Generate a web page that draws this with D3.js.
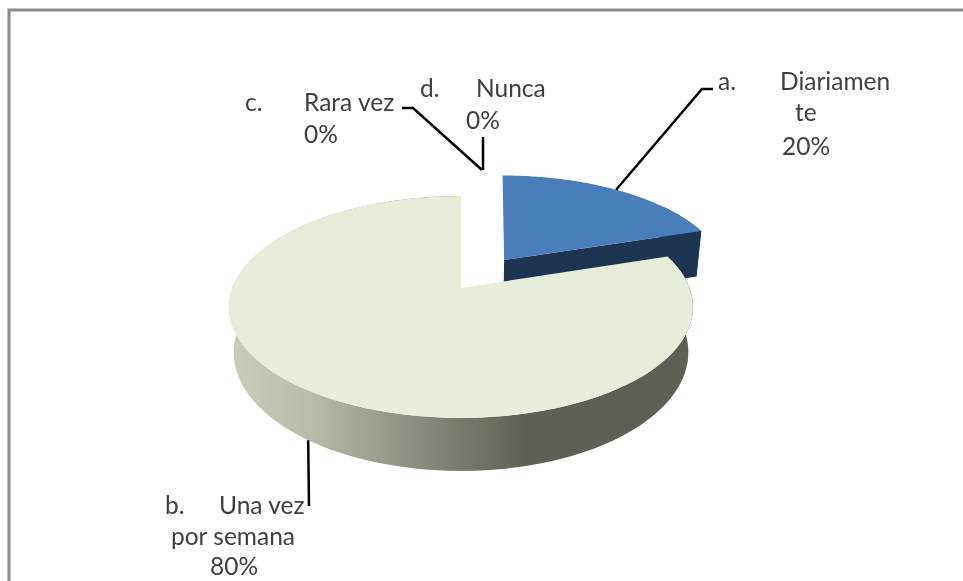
<!DOCTYPE html>
<html>
<head>
<meta charset="utf-8">
<script src="https://cdnjs.cloudflare.com/ajax/libs/d3/7.8.5/d3.min.js"></script>
<style>
  html, body { margin: 0; padding: 0; background: #fff; }
  svg { display: block; }
  text { font-family: Lato, "Open Sans", sans-serif; font-size: 24.5px; fill: #404040; }
</style>
</head>
<body>
<div id="chart"></div>
<script>
// DATA
var letters = ["a.", "b.", "c.", "d."];
var nameLines = [["Diariamen", "te"], ["Una vez", "por semana"], ["Rara vez"], ["Nunca"]];
var values = [20, 80, 0, 0];

// SETUP
var width = 963,
    height = 581;

var svg = d3.select("#chart").append("svg")
    .attr("width", width)
    .attr("height", height);

var defs = svg.append("defs");

// reference is a soft screenshot, so take the edge off everything a bit
defs.append("filter").attr("id", "soft")
  .append("feGaussianBlur").attr("stdDeviation", 0.45);

var wallGrad = defs.append("linearGradient")
    .attr("id", "wall")
    .attr("gradientUnits", "userSpaceOnUse")
    .attr("x1", 228).attr("x2", 692).attr("y1", 0).attr("y2", 0);
[[0, "#c9cdb9"], [0.18, "#b8bca8"], [0.38, "#8f9284"], [0.64, "#5f6054"], [1, "#5f6054"]].forEach(function(s) {
  wallGrad.append("stop").attr("offset", s[0]).attr("stop-color", s[1]);
});

// frame, only top and left are in the picture
svg.append("path")
    .attr("d", d3.line()([[9, height], [9, 10], [width, 10]]))
    .attr("fill", "none")
    .attr("stroke", "#8a8a8a")
    .attr("stroke-width", 3);

var root = svg.append("g").attr("filter", "url(#soft)");

// PROJECTION
// tilted disc with perspective, worked out from the rim + apex of the big slice
var cx = 461, cy = 288, rimX = 228.6, rimY = 107.7, persp = 0.171;
var depth = 44, bottomShrink = 0.98;
var explode = 0.336, explodedDepth = 50, explodedSkew = 4.5;  // skew keeps the cut edge upright

function project(u, v, z) {
  var w = 1 + persp * v;
  var x = cx + rimX * u / w;
  var y = cy - rimY * v / w;
  if (z) {
    x = cx + (x - cx) * bottomShrink;
    y = y + z / w;
  }
  return [x, y];
}

// point on a slice, a = angle from 12 o'clock clockwise, r = 0..1 from apex
function slicePoint(d, a, r, bottom) {
  var isOut = d.index === 0;
  var off = isOut ? explode : 0;
  var mid = (d.startAngle + d.endAngle) / 2;
  var p = project(off * Math.sin(mid) + r * Math.sin(a), off * Math.cos(mid) + r * Math.cos(a),
      bottom ? (isOut ? explodedDepth : depth) : 0);
  if (isOut) p[0] += explodedSkew * r * Math.cos(a);
  return p;
}

function arcPoints(d, bottom, from) {
  var start = from === undefined ? d.startAngle : from;
  return d3.range(0, 97).map(function(i) {
    var a = start + (d.endAngle - start) * i / 96;
    return slicePoint(d, a, 1, bottom);
  });
}

var pie = d3.pie().sort(null)(values);
var line = d3.line();

// blue slice: only the end of the wall shows, the rest sits behind its own top
var blue = pie[0],
    blueFrom = blue.endAngle * 0.75;
root.append("path")
    .attr("d", line(arcPoints(blue, false, blueFrom).concat(arcPoints(blue, true, blueFrom).reverse())) + "Z")
    .attr("fill", "#1f3552");
root.append("path")
    .attr("d", line([
      slicePoint(blue, blue.endAngle, 0, false), slicePoint(blue, blue.endAngle, 1, false),
      slicePoint(blue, blue.endAngle, 1, true), slicePoint(blue, blue.endAngle, 0, true)
    ]) + "Z")
    .attr("fill", "#1f3552");
root.append("path")
    .attr("d", line([slicePoint(blue, blue.startAngle, 0, false)].concat(arcPoints(blue, false))) + "Z")
    .attr("fill", "#4a7ebb");

// big slice: wall and top
var big = pie[1];
root.append("path")
    .attr("d", line(arcPoints(big, false).concat(arcPoints(big, true).reverse())) + "Z")
    .attr("fill", "url(#wall)");
root.append("path")
    .attr("d", line([slicePoint(big, big.startAngle, 0, false)].concat(arcPoints(big, false))) + "Z")
    .attr("fill", "#e8ecdb");

// LEADER LINES
var midA = (blue.startAngle + blue.endAngle) / 2,
    midB = (big.startAngle + big.endAngle) / 2;
var leaders = [
  [slicePoint(blue, midA, 1, false), [702, 89], [713, 89]],
  [slicePoint(big, midB, 1, true), [309, 506]],
  [[402, 108], [413, 108], [482, 170]],
  [[483, 137], [483, 170]]
];
root.selectAll("path.leader")
    .data(leaders)
  .enter().append("path")
    .attr("class", "leader")
    .attr("d", function(d) { return line(d); })
    .attr("fill", "none")
    .attr("stroke", "#000")
    .attr("stroke-width", 2.5);

// LABELS
var labelPos = [
  { letter: [718, 90], names: [[780, 90], [795, 121]], pct: [782, 155] },
  { letter: [165, 514], names: [[219, 514], [171, 545]], pct: [210, 575] },
  { letter: [245, 111], names: [[304, 111]], pct: [304, 143] },
  { letter: [420, 97], names: [[476, 97]], pct: [466, 129] }
];

var total = d3.sum(values);
var labelRows = [];
values.forEach(function(v, i) {
  labelRows.push({ t: letters[i], p: labelPos[i].letter });
  nameLines[i].forEach(function(n, j) {
    labelRows.push({ t: n, p: labelPos[i].names[j] });
  });
  labelRows.push({ t: d3.format(".0%")(v / total), p: labelPos[i].pct });
});

root.selectAll("text")
    .data(labelRows)
  .enter().append("text")
    .attr("x", function(d) { return d.p[0]; })
    .attr("y", function(d) { return d.p[1]; })
    .text(function(d) { return d.t; });
</script>
</body>
</html>
